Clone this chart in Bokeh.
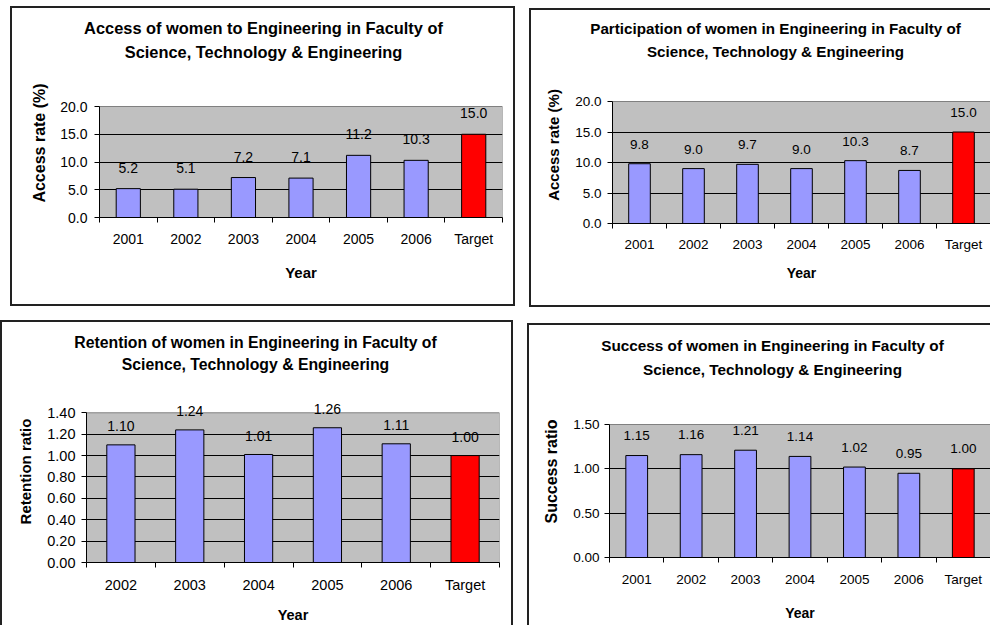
from bokeh.plotting import figure
from bokeh.models import (ColumnDataSource, FactorRange, Range1d, LinearAxis, FixedTicker,
                          NumeralTickFormatter, LabelSet, Spacer)
from bokeh.layouts import column, row
from bokeh.core.properties import value
from bokeh.embed import file_html
from bokeh.resources import INLINE

# ---------------- data ----------------
access_years = ["2001", "2002", "2003", "2004", "2005", "2006", "Target"]
access_rate = [5.2, 5.1, 7.2, 7.1, 11.2, 10.3, 15.0]
access_ticks = [0, 5, 10, 15, 20]

participation_years = ["2001", "2002", "2003", "2004", "2005", "2006", "Target"]
participation_rate = [9.8, 9.0, 9.7, 9.0, 10.3, 8.7, 15.0]
participation_ticks = [0, 5, 10, 15, 20]

retention_years = ["2002", "2003", "2004", "2005", "2006", "Target"]
retention_ratio = [1.10, 1.24, 1.01, 1.26, 1.11, 1.00]
retention_ticks = [0, 0.2, 0.4, 0.6, 0.8, 1.0, 1.2, 1.4]

success_years = ["2001", "2002", "2003", "2004", "2005", "2006", "Target"]
success_ratio = [1.15, 1.16, 1.21, 1.14, 1.02, 0.95, 1.00]
success_ticks = [0, 0.5, 1.0, 1.5]

access_title = ["Access of women to Engineering in Faculty of", "Science, Technology & Engineering"]
participation_title = ["Participation of women in Engineering in Faculty of", "Science, Technology & Engineering"]
retention_title = ["Retention of women in Engineering in Faculty of", "Science, Technology & Engineering"]
success_title = ["Success of women in Engineering in Faculty of", "Science, Technology & Engineering"]

# ---------------- style ----------------
FONT = "Liberation Sans"
BAR = "#9999FF"
TARGET = "#FF0000"
PLOT_BG = "#C0C0C0"
EDGE = "#222222"


def make_panel(cats, vals, yticks, fmt, title_lines, ylabel, g):
    n = len(cats)
    w, h, th = g["w"], g["h"], g["th"]

    # ---- title strip (own figure so the long titles are not clipped) ----
    tf = figure(width=w, height=th, x_range=Range1d(0, w), y_range=Range1d(0, th),
                output_backend="svg", toolbar_location=None,
                x_axis_location=None, y_axis_location=None,
                min_border_left=0, min_border_right=0, min_border_top=0, min_border_bottom=0,
                background_fill_color=None, border_fill_color=None, outline_line_color=None)
    tf.grid.visible = False
    tsrc = ColumnDataSource(dict(x=[g["tx"]] * len(title_lines),
                                 y=[th - yy for yy in g["ty"]], t=title_lines))
    tf.text(x="x", y="y", text="t", source=tsrc, text_align="center", text_baseline="middle",
            text_font=value(FONT), text_font_style="bold", text_font_size=g["title_fs"],
            text_color="black")

    # ---- chart ----
    mh = h - th
    fb = mh - g["mb"]                     # frame bottom inside chart figure (px from top)
    plot_h = fb - g["pt"]                 # height of the grey plot area in px
    y0, y1 = yticks[0], yticks[-1]
    ytop = y0 + (y1 - y0) * fb / plot_h   # frame extends above the grey area (room for labels)

    colors = [TARGET if c == "Target" else BAR for c in cats]
    labels = [format(v, g["vfmt"]) for v in vals]
    src = ColumnDataSource(dict(cat=cats, val=vals, color=colors, lab=labels))

    p = figure(width=w, height=mh, x_range=FactorRange(*cats), y_range=Range1d(y0, ytop),
               output_backend="svg", toolbar_location=None, x_axis_location=None,
               min_border_left=g["ml"], min_border_right=g["mr"],
               min_border_top=0, min_border_bottom=g["mb"],
               background_fill_color=None, border_fill_color=None, outline_line_color=None)

    p.quad(left=[0], right=[n], bottom=[y0], top=[y1], fill_color=PLOT_BG,
           line_color="#808080", line_width=1, level="image")

    ya = p.yaxis[0]
    ya.bounds = (y0, y1)
    ya.ticker = FixedTicker(ticks=yticks)
    ya.formatter = NumeralTickFormatter(format=fmt)
    ya.axis_line_color = "black"
    ya.major_tick_out = 5
    ya.major_tick_in = 0
    ya.major_tick_line_color = "black"
    ya.minor_tick_line_color = None
    ya.major_label_text_font = FONT
    ya.major_label_text_font_size = g["tick_fs"]
    ya.major_label_text_color = "black"
    ya.major_label_standoff = g["ytick_so"]
    ya.axis_label = ylabel
    ya.axis_label_text_font = FONT
    ya.axis_label_text_font_style = "bold"
    ya.axis_label_text_font_size = g["ylab_fs"]
    ya.axis_label_text_color = "black"
    ya.axis_label_standoff = g["ylab_so"]

    p.ygrid.ticker = FixedTicker(ticks=yticks[1:-1])
    p.ygrid.grid_line_color = "black"
    p.ygrid.grid_line_width = 1
    p.xgrid.visible = False

    xa = LinearAxis(ticker=FixedTicker(ticks=[i + 0.5 for i in range(n)],
                                       minor_ticks=list(range(n + 1))),
                    major_label_overrides={i + 0.5: c for i, c in enumerate(cats)})
    xa.axis_line_color = "black"
    xa.major_tick_out = 0
    xa.major_tick_in = 0
    xa.minor_tick_out = 5
    xa.minor_tick_in = 0
    xa.minor_tick_line_color = "black"
    xa.major_label_text_font = FONT
    xa.major_label_text_font_size = g["tick_fs"]
    xa.major_label_text_color = "black"
    xa.major_label_standoff = g["xtick_so"]
    xa.axis_label = "Year"
    xa.axis_label_text_font = FONT
    xa.axis_label_text_font_style = "bold"
    xa.axis_label_text_font_size = g["xlab_fs"]
    xa.axis_label_text_color = "black"
    xa.axis_label_standoff = g["xlab_so"]
    p.add_layout(xa, "below")

    p.vbar(x="cat", top="val", width=g["bw"], source=src, fill_color="color",
           line_color="black", line_width=1)

    p.add_layout(LabelSet(x="cat", y="val", text="lab", source=src, y_offset=g["val_dy"],
                          text_align="center", text_baseline="middle",
                          text_font=value(FONT), text_font_size=g["val_fs"],
                          text_color="black"))

    box = {"box-shadow": g["shadow"], "background-color": "white"}
    return column(column(tf, width=w, height=th), p, width=w, height=h, styles=box)


g1 = dict(w=505, h=300, th=62, ml=89, mr=13, mb=89, pt=38, bw=0.42, vfmt=".1f",
          shadow=f"inset 0 0 0 2px {EDGE}", tx=253, ty=[21, 45],
          tick_fs="14px", val_fs="14px", ylab_fs="16px", xlab_fs="15px", title_fs="16.4px",
          ytick_so=7, ylab_so=9, xtick_so=8, xlab_so=14, val_dy=21)
g2 = dict(w=461, h=299, th=58, ml=83, mr=0, mb=84, pt=35, bw=0.40, vfmt=".1f",
          shadow=f"inset 2px 2px 0 0 {EDGE}, inset 0 -2px 0 0 {EDGE}", tx=246, ty=[20, 43],
          tick_fs="13.5px", val_fs="13.5px", ylab_fs="15px", xlab_fs="14px", title_fs="15.2px",
          ytick_so=6, ylab_so=10, xtick_so=8, xlab_so=10, val_dy=19.5)
g3 = dict(w=513, h=305, th=60, ml=86, mr=14, mb=59, pt=33, bw=0.41, vfmt=".2f",
          shadow=f"inset 2px 2px 0 0 {EDGE}, inset -2px 0 0 0 {EDGE}", tx=255, ty=[22, 44],
          tick_fs="14.5px", val_fs="14px", ylab_fs="15px", xlab_fs="14.5px", title_fs="15.8px",
          ytick_so=6, ylab_so=10, xtick_so=9, xlab_so=11, val_dy=18.7)
g4 = dict(w=463, h=302, th=62, ml=82, mr=0, mb=68, pt=39, bw=0.40, vfmt=".2f",
          shadow=f"inset 2px 2px 0 0 {EDGE}", tx=245, ty=[22, 46],
          tick_fs="13.5px", val_fs="13.5px", ylab_fs="16px", xlab_fs="14px", title_fs="15.3px",
          ytick_so=5, ylab_so=10, xtick_so=9, xlab_so=15, val_dy=20)

p1 = make_panel(access_years, access_rate, access_ticks, "0.0", access_title, "Access rate (%)", g1)
p2 = make_panel(participation_years, participation_rate, participation_ticks, "0.0",
                participation_title, "Access rate (%)", g2)
p3 = make_panel(retention_years, retention_ratio, retention_ticks, "0.00", retention_title,
                "Retention ratio", g3)
p4 = make_panel(success_years, success_ratio, success_ticks, "0.00", success_title,
                "Success ratio", g4)

layout = column(
    row(Spacer(width=10, height=1), column(Spacer(width=1, height=6), p1),
        Spacer(width=14, height=1), column(Spacer(width=1, height=8), p2)),
    Spacer(width=1, height=13),
    row(p3, Spacer(width=14, height=1), column(Spacer(width=1, height=3), p4)),
)

open("out.html", "w").write(file_html(layout, INLINE))
